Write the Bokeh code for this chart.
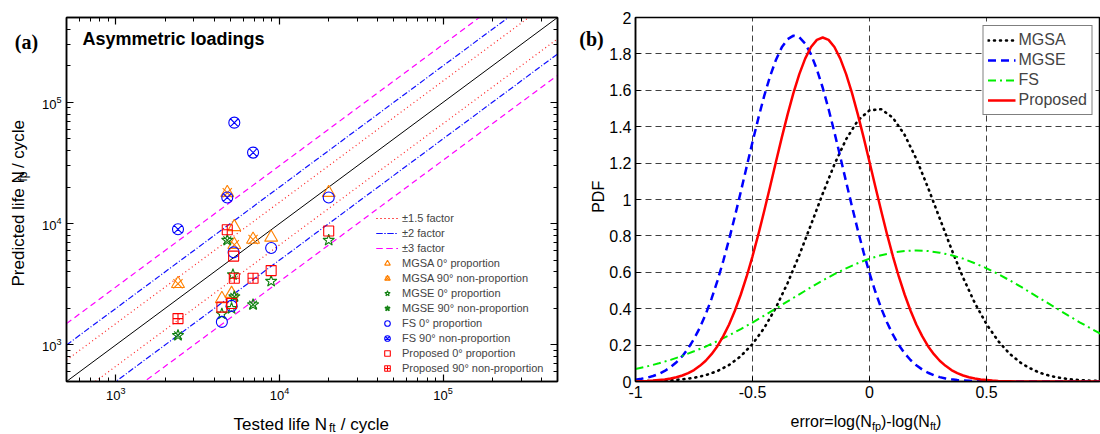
import math
from bokeh.plotting import figure
from bokeh.layouts import row, column
from bokeh.models import LogAxis, FixedTicker, Label, Legend, LegendItem, Range1d
from bokeh.core.properties import value
from bokeh.embed import file_html
from bokeh.resources import INLINE

FONT = "Liberation Sans"

# ---------------- panel (a) data: (tested life, predicted life) ----------------
mgsa0_x = [5300, 8900, 20000, 4450, 5100]
mgsa0_y = [9400, 7700, 18000, 2400, 2650]
mgsa90_x = [4800, 2400, 5300, 6900]
mgsa90_y = [18000, 3200, 6700, 7400]
mgse0_x = [20000, 8900, 5200, 4450, 5100]
mgse0_y = [7300, 3350, 3800, 1800, 2000]
mgse90_x = [4800, 5300, 6900, 2400]
mgse90_y = [7300, 2500, 2150, 1200]
fs0_x = [20000, 8900, 4450, 5100, 5250]
fs0_y = [16400, 6300, 1550, 2100, 5800]
fs90_x = [5300, 6900, 4800, 2400]
fs90_y = [68000, 38500, 16400, 9000]
prop0_x = [20000, 8900, 5250, 4450, 5100]
prop0_y = [8700, 4100, 5400, 2050, 2200]
prop90_x = [4800, 5300, 6900, 2400]
prop90_y = [8900, 3550, 3550, 1650]
factors = [1.5, 2, 3]
factor_labels = ["\u00b11.5 factor", "\u00b12 factor", "\u00b13 factor"]
life_range = [500, 500000]
major_life_ticks = [1000, 10000, 100000]

# ---------------- panel (b) data: PDF of error ----------------
err_x = [-1.0, -0.95, -0.9, -0.85, -0.8, -0.75, -0.7, -0.65, -0.6, -0.55,
         -0.5, -0.45, -0.4, -0.35, -0.3, -0.25, -0.2, -0.15, -0.1, -0.05,
         0.0, 0.05, 0.1, 0.15, 0.2, 0.25, 0.3, 0.35, 0.4, 0.45,
         0.5, 0.55, 0.6, 0.65, 0.7, 0.75, 0.8, 0.85, 0.9, 0.95, 1.0]
pdf_mgsa = [0.001, 0.002, 0.003, 0.006, 0.012, 0.020, 0.035, 0.057, 0.091, 0.139,
            0.206, 0.294, 0.406, 0.541, 0.695, 0.862, 1.032, 1.193, 1.331, 1.434,
            1.490, 1.496, 1.449, 1.355, 1.223, 1.065, 0.896, 0.728, 0.570, 0.431,
            0.315, 0.222, 0.151, 0.099, 0.063, 0.038, 0.023, 0.013, 0.007, 0.004, 0.002]
pdf_fs = [0.069, 0.083, 0.100, 0.119, 0.141, 0.166, 0.192, 0.222, 0.254, 0.288,
          0.324, 0.362, 0.401, 0.440, 0.479, 0.518, 0.555, 0.590, 0.622, 0.650,
          0.675, 0.694, 0.708, 0.717, 0.720, 0.717, 0.708, 0.694, 0.675, 0.650,
          0.622, 0.590, 0.555, 0.518, 0.479, 0.440, 0.401, 0.362, 0.324, 0.288, 0.254]
err_x_fine = [-1.0, -0.975, -0.95, -0.925, -0.9, -0.875, -0.85, -0.825, -0.8, -0.775,
              -0.75, -0.725, -0.7, -0.675, -0.65, -0.625, -0.6, -0.575, -0.55, -0.525,
              -0.5, -0.475, -0.45, -0.425, -0.4, -0.375, -0.35, -0.325, -0.3, -0.275,
              -0.25, -0.225, -0.2, -0.175, -0.15, -0.125, -0.1, -0.075, -0.05, -0.025,
              0.0, 0.025, 0.05, 0.075, 0.1, 0.125, 0.15, 0.175, 0.2, 0.225,
              0.25, 0.275, 0.3, 0.325, 0.35, 0.375, 0.4, 0.425, 0.45, 0.475,
              0.5, 0.525, 0.55, 0.575, 0.6, 0.625, 0.65, 0.675, 0.7, 0.725,
              0.75, 0.775, 0.8, 0.825, 0.85, 0.875, 0.9, 0.925, 0.95, 0.975, 1.0]
pdf_mgse = [0.010, 0.015, 0.021, 0.030, 0.042, 0.058, 0.079, 0.106, 0.139, 0.182,
            0.234, 0.296, 0.370, 0.455, 0.553, 0.662, 0.781, 0.909, 1.043, 1.180,
            1.316, 1.447, 1.569, 1.677, 1.767, 1.836, 1.881, 1.900, 1.891, 1.857,
            1.797, 1.715, 1.614, 1.497, 1.369, 1.235, 1.097, 0.962, 0.831, 0.708,
            0.595, 0.493, 0.402, 0.324, 0.257, 0.201, 0.155, 0.118, 0.089, 0.066,
            0.048, 0.034, 0.024, 0.017, 0.012, 0.008, 0.005, 0.004, 0.002, 0.002,
            0.001, 0.0, 0.0, 0.0, 0.0, 0.0, 0.0, 0.0, 0.0, 0.0,
            0.0, 0.0, 0.0, 0.0, 0.0, 0.0, 0.0, 0.0, 0.0, 0.0, 0.0]
pdf_prop = [0.001, 0.002, 0.003, 0.005, 0.008, 0.011, 0.016, 0.023, 0.033, 0.046,
            0.063, 0.086, 0.114, 0.150, 0.194, 0.249, 0.313, 0.390, 0.478, 0.577,
            0.688, 0.808, 0.937, 1.070, 1.206, 1.340, 1.468, 1.586, 1.689, 1.774,
            1.838, 1.877, 1.890, 1.877, 1.838, 1.774, 1.689, 1.586, 1.468, 1.340,
            1.206, 1.070, 0.937, 0.808, 0.688, 0.577, 0.478, 0.390, 0.313, 0.249,
            0.194, 0.150, 0.114, 0.086, 0.063, 0.046, 0.033, 0.023, 0.016, 0.011,
            0.008, 0.005, 0.003, 0.002, 0.001, 0.0, 0.0, 0.0, 0.0, 0.0,
            0.0, 0.0, 0.0, 0.0, 0.0, 0.0, 0.0, 0.0, 0.0, 0.0, 0.0]
b_xticks = [-1, -0.5, 0, 0.5, 1]
b_xlabels = ["-1", "-0.5", "0", "0.5", "1"]
b_yticks = [0, 0.2, 0.4, 0.6, 0.8, 1.0, 1.2, 1.4, 1.6, 1.8, 2.0]
b_ylabels = ["0", "0.2", "0.4", "0.6", "0.8", "1", "1.2", "1.4", "1.6", "1.8", "2"]
b_xrange = [-1, 0.987]
b_yrange = [0, 2]

# ---------------- page geometry (pixels) ----------------
PAGE_W, PAGE_H = 1100, 434
TOP_H = 406          # height of the row with the two panels
SL_W = 38            # left text strip
P1_W = 524
SM_W = 44            # middle text strip
P2_W = PAGE_W - SL_W - P1_W - SM_W


def strip(x0, y0, w, h):
    s = figure(width=w, height=h, x_range=Range1d(x0, x0 + w),
               y_range=Range1d(y0 + h, y0), output_backend="svg",
               toolbar_location=None, title_location=None,
               x_axis_location=None, y_axis_location=None, min_border=0,
               min_border_left=0, min_border_right=0, min_border_top=0,
               min_border_bottom=0)
    s.grid.visible = False
    s.outline_line_color = None
    return s


def stext(s, x, y, t, size, angle=0.0, align="left", baseline="alphabetic",
          font=FONT, style="normal"):
    s.text(x=[x], y=[y], text=[t], angle=angle, text_font=value(font),
           text_font_size=value(size), text_align=value(align),
           text_baseline=value(baseline), text_font_style=value(style),
           text_color="black")


# =============================== panel (a) ===============================
p1 = figure(width=P1_W, height=TOP_H, x_axis_type="log", y_axis_type="log",
            x_range=Range1d(*life_range), y_range=Range1d(*life_range),
            output_backend="svg", toolbar_location=None,
            min_border_left=65 - SL_W, min_border_right=5, min_border_top=17,
            min_border_bottom=TOP_H - 383)
p1.grid.visible = False
p1.outline_line_color = "black"
p1.outline_line_width = 1.5

minor = [d * m for d in (100, 1000, 10000, 100000) for m in range(2, 10)
         if life_range[0] <= d * m <= life_range[1]]


def style_axis(ax, size):
    ax.ticker = FixedTicker(ticks=major_life_ticks, minor_ticks=minor)
    ax.major_tick_in = 7
    ax.major_tick_out = 0
    ax.minor_tick_in = 4
    ax.minor_tick_out = 0
    ax.axis_line_width = 1.5
    ax.axis_line_color = "black"
    ax.major_tick_line_color = "black"
    ax.minor_tick_line_color = "black"
    ax.major_tick_line_width = 1.2
    ax.minor_tick_line_width = 1
    ax.major_label_text_font = FONT
    ax.major_label_text_font_size = size
    ax.major_label_text_color = "black"
    ax.major_label_standoff = 5


for ax in (p1.xaxis[0], p1.yaxis[0]):
    style_axis(ax, "13px")
for loc in ("above", "right"):
    ax = LogAxis()
    style_axis(ax, "2px")
    ax.major_label_text_color = None
    ax.major_label_standoff = 0
    p1.add_layout(ax, loc)

# reference lines
p1.line(life_range, life_range, line_color="black", line_width=1)
f_colors = ["#ff2020", "#1010ff", "#ff00ff"]
f_dashes = ["1 3", "6 2 1 2", "6 4"]
line_items = []
for f, lab, c, d in zip(factors, factor_labels, f_colors, f_dashes):
    up = p1.line(life_range, [v * f for v in life_range], line_color=c,
                 line_dash=d, line_width=1.2)
    dn = p1.line(life_range, [v / f for v in life_range], line_color=c,
                 line_dash=d, line_width=1.2)
    line_items.append(LegendItem(label=lab, renderers=[up, dn]))

ORANGE, GREEN, BLUE, RED = "#ff8000", "#108010", "#0000ff", "#ff0000"


def mk(xs, ys, marker, color, size):
    return p1.scatter(xs, ys, marker=marker, size=size, line_color=color,
                      fill_color=None, line_width=1.1)


r_mgsa0 = mk(mgsa0_x, mgsa0_y, "triangle", ORANGE, 13)
r_mgsa90a = mk(mgsa90_x, mgsa90_y, "triangle", ORANGE, 13)
r_mgsa90b = mk(mgsa90_x, mgsa90_y, "x", ORANGE, 13)
r_mgse0 = mk(mgse0_x, mgse0_y, "star", GREEN, 12)
r_mgse90a = mk(mgse90_x, mgse90_y, "star", GREEN, 12)
r_mgse90b = mk(mgse90_x, mgse90_y, "x", GREEN, 11)
r_fs0 = mk(fs0_x, fs0_y, "circle", BLUE, 11)
r_fs90 = mk(fs90_x, fs90_y, "circle_x", BLUE, 11)
r_p0 = mk(prop0_x, prop0_y, "square", RED, 10)
r_p90 = mk(prop90_x, prop90_y, "square_cross", RED, 10)

marker_items = [
    LegendItem(label="MGSA 0\u00b0 proportion", renderers=[r_mgsa0]),
    LegendItem(label="MGSA 90\u00b0 non-proportion", renderers=[r_mgsa90a, r_mgsa90b]),
    LegendItem(label="MGSE 0\u00b0 proportion", renderers=[r_mgse0]),
    LegendItem(label="MGSE 90\u00b0 non-proportion", renderers=[r_mgse90a, r_mgse90b]),
    LegendItem(label="FS 0\u00b0 proportion", renderers=[r_fs0]),
    LegendItem(label="FS 90\u00b0 non-proportion", renderers=[r_fs90]),
    LegendItem(label="Proposed 0\u00b0 proportion", renderers=[r_p0]),
    LegendItem(label="Proposed 90\u00b0 non-proportion", renderers=[r_p90]),
]
leg1 = Legend(items=line_items + marker_items, location=(310, 6),
              label_text_font=FONT, label_text_font_size="11px",
              glyph_width=22, glyph_height=14, label_height=14, spacing=1,
              padding=0, margin=0, label_standoff=4,
              border_line_color=None, background_fill_alpha=0)
p1.add_layout(leg1)
p1.add_layout(Label(x=16, y=383 - 50, x_units="screen", y_units="screen",
                    text="Asymmetric loadings", text_font=FONT,
                    text_font_size="18px", text_font_style="bold",
                    text_color="black"))

# =============================== panel (b) ===============================
p2 = figure(width=P2_W, height=TOP_H, x_range=Range1d(*b_xrange),
            y_range=Range1d(*b_yrange), output_backend="svg",
            toolbar_location=None, min_border_left=633 - (SL_W + P1_W + SM_W),
            min_border_right=0, min_border_top=17, min_border_bottom=TOP_H - 381)
p2.outline_line_color = "black"
p2.outline_line_width = 1.5
p2.xaxis.ticker = FixedTicker(ticks=b_xticks)
p2.yaxis.ticker = FixedTicker(ticks=b_yticks)
p2.xaxis.major_label_overrides = {t: l for t, l in zip(b_xticks, b_xlabels)}
p2.yaxis.major_label_overrides = {t: l for t, l in zip(b_yticks, b_ylabels)}
for ax in (p2.xaxis[0], p2.yaxis[0]):
    ax.major_tick_in = 5
    ax.major_tick_out = 0
    ax.minor_tick_line_color = None
    ax.axis_line_width = 1.5
    ax.axis_line_color = "black"
    ax.major_label_text_font = FONT
    ax.major_label_text_font_size = "16px"
    ax.major_label_text_color = "black"
    ax.major_label_standoff = 4
p2.grid.grid_line_color = "black"
p2.grid.grid_line_dash = "6 4"
p2.grid.grid_line_alpha = 0.75
p2.grid.grid_line_width = 1

r_a = p2.line(err_x, pdf_mgsa, line_color="black", line_dash="1 5",
              line_width=2.6, line_cap="round")
r_e = p2.line(err_x_fine, pdf_mgse, line_color="#0000ff", line_dash="8 5",
              line_width=2.5)
r_f = p2.line(err_x, pdf_fs, line_color="#00ee00", line_dash="8 4 2 4",
              line_width=2)
r_p = p2.line(err_x_fine, pdf_prop, line_color="#ff0000", line_width=2.5)
leg2 = Legend(items=[LegendItem(label="MGSA", renderers=[r_a]),
                     LegendItem(label="MGSE", renderers=[r_e]),
                     LegendItem(label="FS", renderers=[r_f]),
                     LegendItem(label="Proposed", renderers=[r_p])],
              location="top_right", margin=8, padding=4, spacing=0,
              label_text_font=FONT, label_text_font_size="16px",
              glyph_width=28, glyph_height=20, label_height=20, label_standoff=3,
              border_line_color="black", border_line_width=1,
              background_fill_color="white", background_fill_alpha=1)
p2.add_layout(leg2)

# =============================== text strips ===============================
x_sm = SL_W + P1_W

sL = strip(0, 0, SL_W, TOP_H)
stext(sL, 26, 27, "(a)", "20px", align="center", baseline="middle",
      font="Liberation Serif", style="bold")
stext(sL, 18, 300, "Predicted life N", "17px", angle=math.pi / 2,
      baseline="middle")
stext(sL, 22.5, 183, "fp", "12px", angle=math.pi / 2, baseline="middle")
stext(sL, 18, 168, "/ cycle", "17px", angle=math.pi / 2, baseline="middle")

sM = strip(x_sm, 0, SM_W, TOP_H)
stext(sM, 591, 24, "(b)", "20px", align="center", baseline="middle",
      font="Liberation Serif", style="bold")
stext(sM, 598, 200, "PDF", "16px", angle=math.pi / 2, align="center",
      baseline="middle")

sB = strip(0, TOP_H, PAGE_W, PAGE_H - TOP_H)
stext(sB, 233, 424, "Tested life N", "17px")
stext(sB, 328.5, 427, "ft", "12px")
stext(sB, 340.2, 424, "/ cycle", "17px")
stext(sB, 790, 421, "error=log(N", "16px")
stext(sB, 871.5, 425, "fp", "11px")
stext(sB, 880.5, 421, ")-log(N", "16px")
stext(sB, 929.5, 425, "ft", "11px")
stext(sB, 935.5, 421, ")", "16px")

layout = column(row(sL, p1, sM, p2), sB)
open("out.html", "w").write(file_html(layout, INLINE))
